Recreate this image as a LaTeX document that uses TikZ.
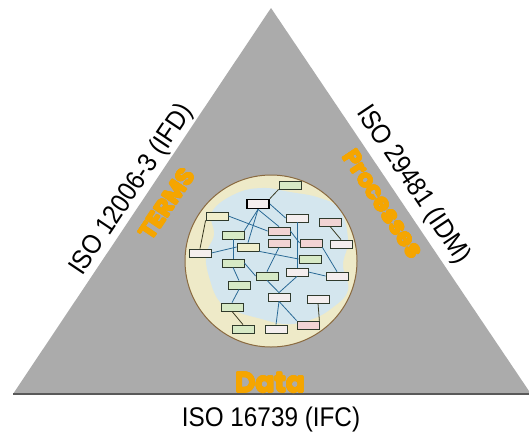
\documentclass[tikz,border=0pt]{standalone}
\usepackage{fontspec}
\usepackage[copies]{contour}
\contournumber{12}
\contourlength{0.6pt}
\setmainfont{Liberation Sans}[FakeStretch=0.9]
\newfontfamily\orfont{Poppins}
\newcommand{\heavy}[1]{\contour{orangeT}{#1}}
\begin{document}
\begin{tikzpicture}[x=1pt,y=-1pt,
  isolabel/.style={font=\fontsize{27}{30}\selectfont, text=black, inner sep=0pt},
  orlabel/.style={font=\orfont\bfseries\fontsize{24}{26}\selectfont, text=orangeT, inner sep=0pt},
  bx/.style={draw=boxline, line width=0.8pt, minimum width=22pt, minimum height=8pt, inner sep=0pt},
  gbx/.style={bx, fill=boxgreen},
  pbx/.style={bx, fill=boxpink},
  wbx/.style={bx, fill=boxwhite},
  ybx/.style={bx, fill=boxyellow},
  bedge/.style={draw=edgeblue, line width=0.8pt},
  dedge/.style={draw=edgedark, line width=0.8pt}
]
\definecolor{trigray}{HTML}{ABABAB}
\definecolor{orangeT}{HTML}{F5A500}
\definecolor{circfill}{HTML}{EEEAC8}
\definecolor{circline}{HTML}{8A6A40}
\definecolor{blobfill}{HTML}{D4E6EE}
\definecolor{boxline}{HTML}{2F3A2C}
\definecolor{boxgreen}{HTML}{D7EAC6}
\definecolor{boxpink}{HTML}{F2D4D4}
\definecolor{boxwhite}{HTML}{F4EEEE}
\definecolor{boxyellow}{HTML}{F0EECB}
\definecolor{edgeblue}{HTML}{2A6A96}
\definecolor{edgedark}{HTML}{3A3A22}
\useasboundingbox[fill=white] (0,0) rectangle (529,434);
% triangle
\coordinate (apex) at (271,8);
\coordinate (bl) at (13,394);
\coordinate (br) at (531,394);
\fill[trigray] (apex) -- (bl) -- (br) -- cycle;
\draw[line width=1.2pt, draw=black!65] (bl) -- (br);
% circle
\fill[circfill] (271,261) circle (86);
\fill[blobfill] plot[smooth cycle, tension=0.7] coordinates {
 (212,212) (235,194) (262,188) (290,192) (320,198) (340,210) (348,240)
 (343,265) (348,290) (332,308) (310,320) (285,324) (258,318) (238,312)
 (220,302) (210,280) (206,255) (214,235)};
\draw[circline, line width=1pt] (271,261) circle (86);
% boxes
\node[gbx] (b1) at (290,185) {};
\node[wbx, line width=1.8pt, draw=black, minimum width=22pt, minimum height=9pt] (b2) at (258,204) {};
\node[ybx] (b3) at (217,216) {};
\node[wbx] (b4) at (297,218) {};
\node[pbx] (b5) at (330,222) {};
\node[gbx] (b6) at (233,235) {};
\node[pbx] (b7) at (279,231) {};
\node[pbx] (b8) at (279,243) {};
\node[pbx] (b9) at (311,243) {};
\node[wbx] (b10) at (341,244) {};
\node[wbx] (b11) at (200,253) {};
\node[ybx] (b12) at (248,247) {};
\node[gbx] (b13) at (233,263) {};
\node[gbx] (b14) at (310,259) {};
\node[gbx] (b15) at (267,276) {};
\node[wbx] (b16) at (297,272) {};
\node[wbx] (b17) at (337,276) {};
\node[gbx] (b18) at (239,285) {};
\node[wbx] (b19) at (279,297) {};
\node[wbx] (b20) at (318,299) {};
\node[gbx] (b21) at (232,307) {};
\node[gbx] (b22) at (243,329) {};
\node[wbx] (b23) at (276,329) {};
\node[pbx] (b24) at (308,325) {};
% edges
\draw[dedge] (b2.north east) -- (b1.south west);
\draw[dedge] (b3.south west) -- (b11.north);
\draw[dedge] (b5.south) -- (b10.north);
\draw[dedge] (b20.south) -- (b24.north east);
\draw[dedge] (b21.south) -- (b22.north);
\draw[bedge] (b2.south) -- (b6.north east);
\draw[bedge] (b2.south) -- (b12.north);
\draw[bedge] (b2.south) -- (b7.north);
\draw[bedge] (b2.east) -- (b4.west);
\draw[bedge] (b3.east) -- (b7.west);
\draw[bedge] (b6.south) -- (b13.north);
\draw[bedge] (b11.east) -- (b12.west);
\draw[bedge] (b4.south) -- (b16.north);
\draw[bedge] (b8.south) -- (b15.north);
\draw[bedge] (b7.east) -- (b9.west);
\draw[bedge] (b9.south east) -- (b17.north);
\draw[bedge] (b12.south east) -- (b14.west);
\draw[bedge] (b13.east) -- (b15.west);
\draw[bedge] (b16.east) -- (b17.west);
\draw[bedge] (b13.south) -- (b18.north);
\draw[bedge] (b15.south) -- (b19.north);
\draw[bedge] (b16.south) -- (b19.north);
\draw[bedge] (b19.south) -- (b24.north west);
\draw[bedge] (b19.south) -- (b23.north);
\draw[bedge] (b18.south) -- (b21.north);
% labels
\node[isolabel, rotate=56.2] (lifd) at (132,190) {ISO 12006-3 (IFD)};
\node[isolabel, rotate=-56.2] (lidm) at (413,185) {ISO 29481 (IDM)};
\node[isolabel] (lifc) at (271,420) {ISO 16739 (IFC)};
\node[orlabel, rotate=56.2] (terms) at (167,204) {\heavy{TERMS}};
\node[orlabel, rotate=-56.2] (proc) at (383,204) {\heavy{Processes}};
\node[orlabel, font=\orfont\bfseries\fontsize{28}{30}\selectfont] (data) at (270,383) {\heavy{Data}};
\end{tikzpicture}
\end{document}
